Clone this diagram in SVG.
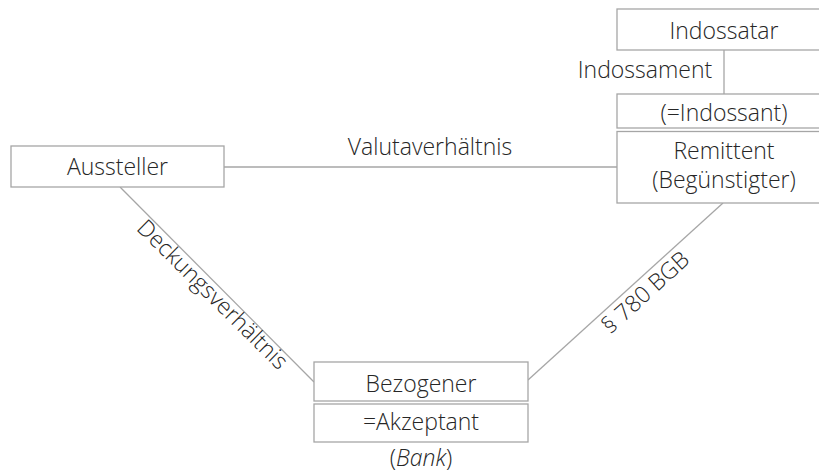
<svg xmlns="http://www.w3.org/2000/svg" width="819" height="475" viewBox="0 0 819 475">
<style>
.box{fill:#fff;stroke:#a6a6a6;stroke-width:1.3}
.ln{stroke:#a6a6a6;stroke-width:1.3;fill:none}
text{font-family:"Open Sans","Liberation Sans",sans-serif;font-weight:300;font-size:23px;fill:#262626}
.c{text-anchor:middle}
</style>
<rect width="819" height="475" fill="#fff"/>
<g id="connectors">
<line class="ln" x1="224" y1="167" x2="617" y2="167"/>
<line class="ln" x1="120" y1="187" x2="314" y2="382"/>
<line class="ln" x1="528" y1="380" x2="723" y2="203"/>
<line class="ln" x1="724" y1="50" x2="724" y2="94"/>
<text class="c" x="430" y="155">Valutaverhältnis</text>
<text class="c" x="645" y="78">Indossament</text>
<text class="c" transform="translate(212,295) rotate(44.7)" y="7">Deckungsverhältnis</text>
<text class="c" transform="translate(646,293) rotate(-42.2)" y="7">§ 780 BGB</text>
</g>
<g id="aussteller">
<rect class="box" x="11" y="146" width="213" height="41"/>
<text class="c" x="117.5" y="175">Aussteller</text>
</g>
<g id="indossatar">
<rect class="box" x="617" y="9" width="214" height="41"/>
<text class="c" x="724" y="39">Indossatar</text>
</g>
<g id="remittent">
<rect class="box" x="617" y="94" width="214" height="34"/>
<rect class="box" x="617" y="131.5" width="214" height="71.5"/>
<text class="c" x="724" y="121">(=Indossant)</text>
<text class="c" x="724" y="159">Remittent</text>
<text class="c" x="724" y="188">(Begünstigter)</text>
</g>
<g id="bezogener">
<rect class="box" x="314" y="362" width="214" height="39"/>
<rect class="box" x="314" y="404" width="214" height="38"/>
<text class="c" x="421" y="392">Bezogener</text>
<text class="c" x="421" y="430">=Akzeptant</text>
<text class="c" x="421" y="466">(<tspan font-style="italic">Bank</tspan>)</text>
</g>
</svg>
